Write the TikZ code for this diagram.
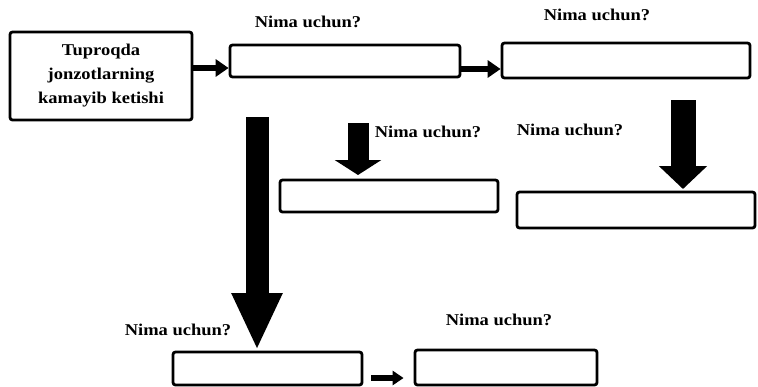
\documentclass[tikz,border=0pt]{standalone}
\usepackage{fontspec}
\setmainfont{Liberation Serif}[FakeStretch=1.12]
\usetikzlibrary{arrows.meta}
\begin{document}
\begin{tikzpicture}[x=1pt,y=-1pt,
  box/.style={draw=black,line width=2.8pt,rounded corners=2.5pt,fill=white,inner sep=0pt},
  lab/.style={font=\bfseries\fontsize{16.5}{18}\selectfont,inner sep=0pt},
  thin arrow/.style={line width=6pt,-{Triangle[width=17pt,length=13pt]}},
]
\useasboundingbox (0,0) rectangle (758,386);
% boxes
\node[box,minimum width=182pt,minimum height=88pt,align=center,
      font=\bfseries\fontsize{16.5}{24}\selectfont] (A) at (101,76)
  {Tuproqda\\jonzotlarning\\kamayib ketishi};
\node[box,minimum width=230pt,minimum height=32pt] (B) at (345,61) {};
\node[box,minimum width=248pt,minimum height=35pt] (C) at (626,60.5) {};
\node[box,minimum width=238pt,minimum height=36pt] (D) at (636,210) {};
\node[box,minimum width=218pt,minimum height=32pt] (E) at (389,196) {};
\node[box,minimum width=189pt,minimum height=33pt] (F) at (267.5,368.5) {};
\node[box,minimum width=182pt,minimum height=35pt] (G) at (506,367.5) {};
% labels
\node[lab] (l1) at (308,22) {Nima uchun?};
\node[lab] (l2) at (597,15) {Nima uchun?};
\node[lab] (l3) at (428,132) {Nima uchun?};
\node[lab] (l4) at (570,130) {Nima uchun?};
\node[lab] (l5) at (178,330) {Nima uchun?};
\node[lab] (l6) at (499,320) {Nima uchun?};
% helper coordinates
\coordinate (ab) at (0,68);
\coordinate (bc) at (0,69);
\coordinate (fg) at (0,378);
\coordinate (bigL) at (257,117);
\coordinate (bigLtip) at (257,350);
\coordinate (bigR) at (683,100);
\coordinate (bigRtip) at (683,189);
\coordinate (mid) at (358,123);
\coordinate (midtip) at (358,175);
% connectors
\draw[thin arrow] (A.east |- ab) -- (B.west |- ab);
\draw[thin arrow] (B.east |- bc) -- (C.west |- bc);
\draw[line width=6pt,-{Triangle[width=14pt,length=11pt]},shorten <=8pt,shorten >=10pt]
  (F.east |- fg) -- (G.west |- fg);
\draw[line width=23pt,-{Triangle[width=47pt,length=57pt]}] (bigL) -- (bigLtip);
\draw[line width=25pt,-{Triangle[width=47pt,length=23pt]}] (bigR) -- (bigRtip);
\draw[line width=21pt,-{Triangle[width=46pt,length=15pt]}] (mid) -- (midtip);
\end{tikzpicture}
\end{document}
